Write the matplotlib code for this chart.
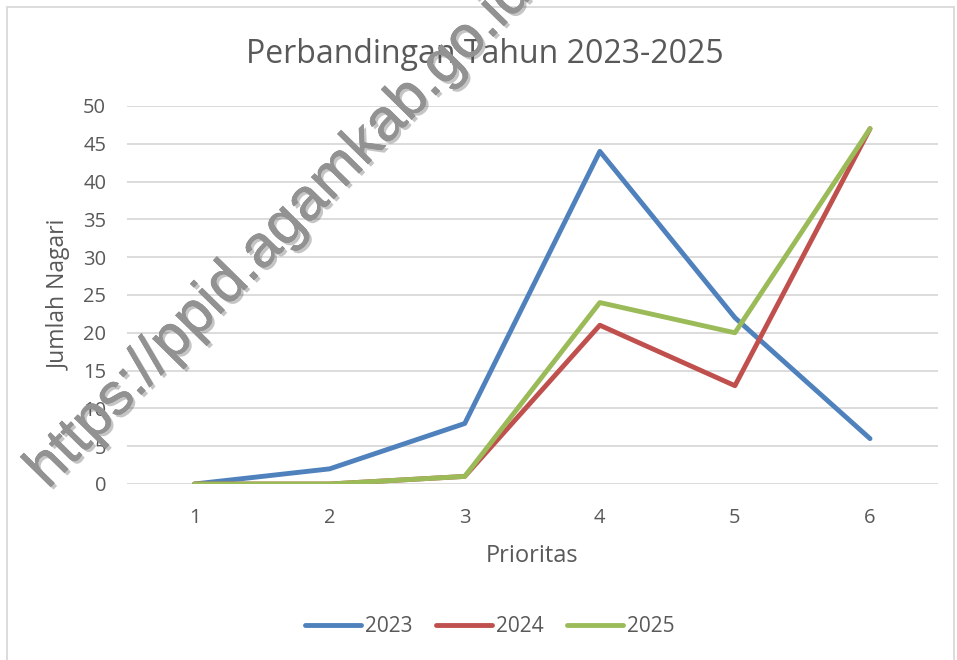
import matplotlib.pyplot as plt
import matplotlib.patheffects as pe
from matplotlib.patches import Rectangle

# data
prioritas = [1, 2, 3, 4, 5, 6]
th2023 = [0, 2, 8, 44, 22, 6]
th2024 = [0, 0, 1, 21, 13, 47]
th2025 = [0, 0, 1, 24, 20, 47]
years = ['2023', '2024', '2025']
colors = ['#4f81bd', '#c0504d', '#9bbb59']

plt.rcParams['font.family'] = ['Open Sans', 'DejaVu Sans']
txt = '#595959'

fig = plt.figure(figsize=(9.57, 6.6), dpi=100)
ax = fig.add_axes([0.1327, 0.2667, 0.847, 0.5727])

for vals, c, lab in zip([th2023, th2024, th2025], colors, years):
    ax.plot(prioritas, vals, color=c, lw=3.5, label=lab, solid_capstyle='round',
            solid_joinstyle='round')

ax.set_xlim(0.5, 6.5)
ax.set_ylim(0, 50)
ax.set_yticks(range(0, 51, 5))
ax.set_xticks(prioritas)
ax.grid(axis='y', color='#d9d9d9', lw=1.3)
ax.set_axisbelow(True)
for s in ax.spines.values():
    s.set_visible(False)
ax.tick_params(length=0, labelsize=14.5, labelcolor=txt)
ax.tick_params(axis='x', pad=17)
ax.tick_params(axis='y', pad=15)
ax.set_xlabel('Prioritas', fontsize=17, color=txt, labelpad=12)
ax.set_ylabel('Jumlah Nagari', fontsize=16.5, color=txt, labelpad=8)

fig.text(0.507, 0.918, 'Perbandingan Tahun 2023-2025', ha='center', va='center',
         fontsize=23, color=txt)

leg = fig.legend(loc='center', bbox_to_anchor=(0.512, 0.05), ncol=3, frameon=False,
                 fontsize=15, handlelength=2.7, handletextpad=0.2, columnspacing=1.1)
for t in leg.get_texts():
    t.set_color(txt)

# outer chart border
fig.patches.append(Rectangle((0.007, -0.01), 0.99, 0.999, transform=fig.transFigure,
                             fill=False, edgecolor='#d9d9d9', lw=1.3))

# watermark
fig.text(0.05, 0.258, 'https://ppid.agamkab.go.id', rotation=45.5, fontsize=42.5,
         color='#929292', family='Liberation Sans', ha='left', va='baseline',
         rotation_mode='anchor',
         path_effects=[pe.withSimplePatchShadow(offset=(2, -2), shadow_rgbFace='#404040',
                                                alpha=0.3),
                       pe.withStroke(linewidth=0.5, foreground='#929292')])

fig.savefig('out.png', dpi=100)
